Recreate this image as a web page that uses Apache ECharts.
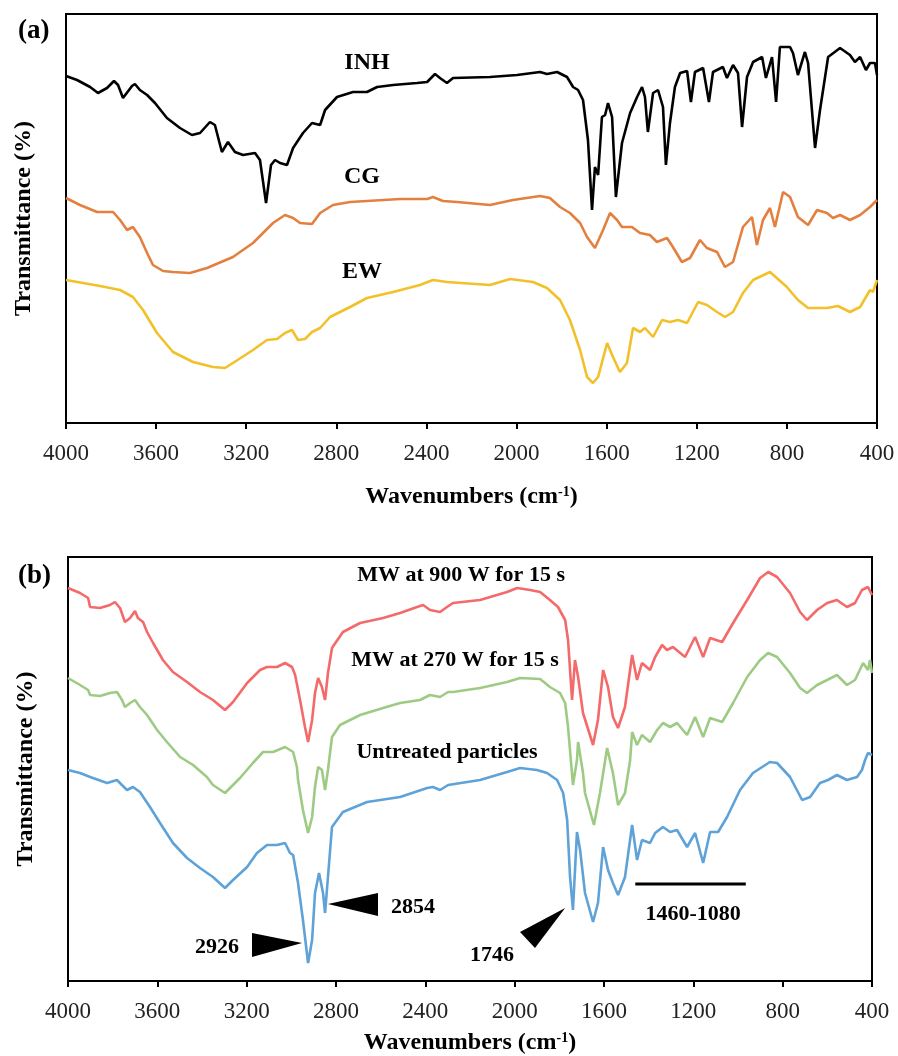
<!DOCTYPE html>
<html lang="en">
<head>
<meta charset="UTF-8">
<title>FTIR spectra</title>
<style>
    body { margin: 0; padding: 0; background: #FFFFFF; overflow: hidden; }
    #main_chart { width: 898px; height: 1056px; }
</style>
</head>
<body>
<div id="main_chart"></div>
<script src="https://cdn.jsdelivr.net/npm/echarts@6/dist/echarts.min.js"></script>
<script>
// x = wavenumber (cm-1), y = transmittance (arbitrary, offset for stacking)
var xTicks = { min: 400, max: 4000, interval: 400 };

// panel (a)
var inh = [[4000,347],[3951,343],[3893,336],[3858,330],[3818,335],[3787,342],[3769,338],[3747,325],[3707,337],[3694,339],[3672,333],[3640,328],[3605,320],[3552,305],[3494,295],[3441,288],[3405,290],[3361,301],[3339,298],[3308,271],[3281,281],[3250,271],[3214,268],[3161,270],[3139,263],[3112,220],[3090,258],[3072,263],[3050,260],[3019,258],[2992,275],[2948,290],[2908,300],[2872,298],[2850,313],[2797,326],[2726,331],[2664,331],[2619,336],[2548,338],[2442,340],[2397,341],[2362,349],[2340,345],[2309,340],[2282,345],[2118,346],[1998,348],[1896,351],[1865,349],[1820,351],[1776,346],[1749,336],[1727,333],[1705,323],[1683,283],[1665,213],[1652,256],[1638,248],[1621,306],[1607,308],[1594,320],[1576,306],[1559,226],[1532,280],[1496,310],[1465,326],[1443,336],[1430,326],[1417,291],[1394,330],[1372,333],[1350,316],[1337,258],[1319,300],[1297,336],[1274,350],[1243,352],[1226,321],[1208,351],[1172,355],[1146,321],[1128,351],[1084,356],[1066,345],[1039,358],[1017,350],[999,296],[977,346],[950,361],[910,366],[893,345],[866,366],[848,321],[831,376],[786,376],[773,370],[751,348],[720,371],[706,360],[675,275],[653,313],[617,366],[564,375],[520,368],[498,361],[475,366],[449,353],[431,360],[409,360],[400,348]];
var cg = [[4000,225],[3938,218],[3862,211],[3791,211],[3760,203],[3729,193],[3703,196],[3672,186],[3640,170],[3614,158],[3569,152],[3525,151],[3450,150],[3374,155],[3259,166],[3170,180],[3081,200],[3028,208],[2992,205],[2961,200],[2908,199],[2872,210],[2815,218],[2739,221],[2664,222],[2517,224],[2397,224],[2371,226],[2327,222],[2264,221],[2118,218],[2016,223],[1896,227],[1852,225],[1807,216],[1763,210],[1718,200],[1687,186],[1652,175],[1616,193],[1585,210],[1554,203],[1532,196],[1488,196],[1452,190],[1408,188],[1377,181],[1332,185],[1306,176],[1266,161],[1230,165],[1186,183],[1155,175],[1110,171],[1075,156],[1039,161],[995,196],[955,206],[933,178],[906,203],[875,215],[853,196],[817,231],[786,226],[751,206],[706,198],[666,213],[622,210],[595,205],[564,208],[520,203],[475,208],[431,216],[400,223]];
var ew = [[4000,143],[3849,137],[3760,133],[3703,126],[3658,113],[3596,90],[3525,71],[3436,61],[3347,56],[3294,55],[3259,60],[3170,73],[3108,83],[3063,84],[3028,90],[2997,93],[2970,83],[2939,84],[2908,91],[2872,95],[2828,106],[2739,116],[2664,125],[2548,131],[2429,138],[2371,143],[2309,141],[2118,138],[2029,144],[1927,141],[1865,135],[1807,123],[1763,103],[1718,73],[1687,46],[1661,40],[1638,46],[1598,80],[1572,66],[1541,51],[1510,60],[1483,95],[1452,91],[1430,95],[1394,86],[1354,103],[1319,101],[1283,103],[1243,100],[1194,121],[1155,118],[1110,111],[1075,106],[1039,111],[995,130],[950,143],[875,151],[800,136],[751,123],[706,115],[622,115],[573,117],[520,111],[475,116],[431,133],[418,131],[400,143]];

// panel (b)
var mw900 = [[4000,393],[3946,388],[3910,383],[3901,374],[3857,373],[3812,376],[3790,379],[3767,373],[3745,359],[3722,363],[3700,370],[3687,363],[3664,359],[3646,349],[3619,338],[3575,321],[3530,309],[3467,299],[3409,289],[3351,281],[3297,271],[3261,279],[3198,298],[3140,311],[3109,314],[3064,314],[3028,318],[2997,314],[2983,306],[2961,281],[2939,254],[2925,239],[2907,261],[2894,288],[2880,303],[2863,294],[2849,281],[2836,308],[2818,333],[2769,349],[2692,358],[2589,363],[2513,368],[2437,374],[2410,376],[2379,371],[2334,369],[2303,374],[2276,378],[2155,381],[2034,389],[1989,393],[1931,391],[1886,389],[1842,381],[1806,374],[1774,361],[1761,341],[1743,281],[1730,321],[1716,304],[1694,268],[1649,236],[1627,261],[1604,311],[1582,294],[1560,264],[1537,253],[1506,274],[1474,326],[1452,301],[1430,318],[1394,311],[1371,324],[1340,336],[1318,331],[1291,334],[1237,324],[1192,344],[1156,324],[1125,343],[1071,339],[1022,358],[959,381],[901,403],[865,409],[825,404],[767,388],[722,369],[691,361],[646,371],[601,378],[557,381],[512,374],[476,378],[445,391],[418,394],[400,386]];
var mw270 = [[4000,303],[3946,296],[3910,291],[3901,286],[3857,285],[3812,288],[3781,289],[3758,281],[3745,274],[3722,278],[3700,281],[3678,274],[3646,266],[3601,251],[3557,239],[3498,224],[3440,216],[3378,204],[3351,196],[3297,188],[3230,203],[3172,218],[3127,229],[3082,229],[3028,234],[2992,229],[2975,214],[2970,201],[2948,171],[2925,148],[2907,164],[2894,194],[2880,214],[2863,211],[2849,191],[2836,211],[2818,244],[2782,256],[2692,266],[2589,273],[2513,278],[2424,281],[2379,286],[2334,284],[2298,289],[2276,289],[2155,293],[2034,299],[1976,303],[1886,302],[1842,294],[1797,288],[1774,278],[1761,254],[1739,196],[1721,221],[1716,239],[1694,208],[1685,188],[1645,156],[1618,188],[1586,233],[1560,208],[1537,176],[1506,188],[1483,221],[1474,249],[1452,236],[1430,246],[1394,239],[1362,251],[1336,258],[1304,254],[1273,258],[1228,246],[1192,264],[1156,244],[1125,263],[1071,259],[1022,278],[959,304],[901,321],[865,328],[825,324],[767,308],[722,293],[691,288],[646,296],[601,301],[557,306],[512,296],[476,301],[440,318],[418,311],[409,321],[400,308]];
var untreated = [[4000,211],[3946,208],[3901,204],[3825,198],[3781,201],[3736,191],[3709,194],[3678,189],[3633,174],[3588,158],[3530,138],[3467,123],[3409,113],[3351,104],[3297,93],[3261,101],[3198,114],[3154,128],[3109,136],[3064,136],[3028,138],[3006,128],[2992,126],[2970,98],[2948,61],[2925,18],[2907,41],[2894,88],[2876,108],[2858,88],[2849,68],[2836,104],[2818,154],[2769,169],[2661,179],[2513,184],[2392,193],[2366,194],[2334,191],[2298,196],[2155,201],[2034,209],[1976,213],[1900,211],[1855,208],[1810,201],[1783,188],[1765,161],[1752,104],[1739,71],[1721,149],[1707,131],[1685,88],[1649,59],[1627,78],[1604,134],[1582,111],[1560,98],[1537,86],[1506,104],[1474,156],[1452,121],[1430,141],[1394,138],[1371,148],[1336,154],[1304,149],[1273,151],[1228,134],[1192,148],[1156,118],[1125,149],[1089,149],[1049,164],[991,191],[933,208],[857,219],[825,218],[767,204],[713,181],[677,184],[633,198],[597,201],[557,206],[512,201],[467,204],[445,211],[431,221],[418,228],[400,226]];

// labels and annotations, in data units
var labelsA = [[2664,360,'INH'],[2686,246,'CG'],[2686,151,'EW']];
var labelsB = [[2240,406,'MW at 900 W for 15 s'],[2267,321,'MW at 270 W for 15 s'],[2303,229,'Untreated particles'],
               [3333,34,'2926'],[2455,74,'2854'],[2101,26,'1746'],[1201,67,'1460-1080']];
var arrowTriangles = [[2952,38,3176,48,3176,24],[2836,77,2612,88,2612,65],[1774,73,1976,49,1909,33]];
var rangeBar = [[1460,97],[965,97]];

var dom = document.getElementById('main_chart');
var chart = echarts.init(dom);

var serif = 'Liberation Serif';

function makeX(idx, gap) {
    return {
        gridIndex: idx, type: 'value', inverse: true,
        min: xTicks.min, max: xTicks.max, interval: xTicks.interval,
        name: '{t|Wavenumbers (cm}{s|-1}{t|)}',
        nameLocation: 'middle', nameGap: gap,
        nameTextStyle: {
            rich: {
                t: { fontFamily: serif, fontWeight: 'bold', fontSize: 24, color: '#000' },
                s: { fontFamily: serif, fontWeight: 'bold', fontSize: 14, color: '#000', verticalAlign: 'top', padding: [0, 0, 10, 0] }
            }
        },
        axisLine: { show: true, lineStyle: { color: '#000', width: 2 } },
        axisTick: { show: true, inside: false, length: 6, lineStyle: { color: '#000', width: 2 } },
        axisLabel: {
            margin: 19, fontFamily: serif, fontSize: 23, color: '#222',
            showMinLabel: true, showMaxLabel: true,
            formatter: function (v) { return String(v); }
        },
        splitLine: { show: false }
    };
}

function makeY(idx, max) {
    return {
        gridIndex: idx, type: 'value', min: 0, max: max,
        name: 'Transmittance (%)', nameLocation: 'middle', nameGap: 30, nameRotate: 90,
        nameTextStyle: { fontFamily: serif, fontWeight: 'bold', fontSize: 24, color: '#000' },
        axisLine: { show: true, lineStyle: { color: '#000', width: 2 } },
        axisTick: { show: false }, axisLabel: { show: false }, splitLine: { show: false }
    };
}

function spectrum(data, color, idx) {
    return {
        type: 'line', xAxisIndex: idx, yAxisIndex: idx, data: data,
        showSymbol: false, symbol: 'none', smooth: false, silent: true,
        lineStyle: { color: color, width: 2.6 }
    };
}

// text placed at data coordinates
function textSeries(data, idx, size) {
    return {
        type: 'custom', xAxisIndex: idx, yAxisIndex: idx, data: data, silent: true, z: 5,
        dimensions: ['x', 'y', 'text'],
        renderItem: function (params, api) {
            var p = api.coord([api.value(0), api.value(1)]);
            return {
                type: 'text', x: p[0], y: p[1],
                style: {
                    text: data[params.dataIndex][2], fill: '#000',
                    font: 'bold ' + size + 'px "' + serif + '"',
                    align: 'center', verticalAlign: 'middle'
                }
            };
        }
    };
}

var option = {
    animation: false,
    backgroundColor: '#fff',
    grid: [
        { left: 66, top: 14, width: 811, height: 409, show: true, borderColor: '#000', borderWidth: 2 },
        { left: 68, top: 557, width: 804, height: 424, show: true, borderColor: '#000', borderWidth: 2 }
    ],
    xAxis: [makeX(0, 62), makeX(1, 50)],
    yAxis: [makeY(0, 409), makeY(1, 424)],
    graphic: [
        { type: 'text', left: 18, top: 18, style: { text: '(a)', fontFamily: serif, fontWeight: 'bold', fontSize: 27, fill: '#000' } },
        { type: 'text', left: 18, top: 563, style: { text: '(b)', fontFamily: serif, fontWeight: 'bold', fontSize: 27, fill: '#000' } }
    ],
    series: [
        spectrum(ew, '#F2C12A', 0),
        spectrum(cg, '#E4803F', 0),
        spectrum(inh, '#000000', 0),
        textSeries(labelsA, 0, 24),
        spectrum(untreated, '#5EA2D8', 1),
        spectrum(mw270, '#9ECB84', 1),
        spectrum(mw900, '#F46A6A', 1),
        {
            type: 'line', xAxisIndex: 1, yAxisIndex: 1, data: rangeBar,
            showSymbol: false, symbol: 'none', silent: true,
            lineStyle: { color: '#000', width: 3 }
        },
        {
            type: 'custom', xAxisIndex: 1, yAxisIndex: 1, data: arrowTriangles, silent: true, z: 5,
            renderItem: function (params, api) {
                return {
                    type: 'polygon',
                    shape: { points: [
                        api.coord([api.value(0), api.value(1)]),
                        api.coord([api.value(2), api.value(3)]),
                        api.coord([api.value(4), api.value(5)])
                    ] },
                    style: { fill: '#000' }
                };
            }
        },
        textSeries(labelsB, 1, 22)
    ]
};

chart.setOption(option);
</script>
</body>
</html>
